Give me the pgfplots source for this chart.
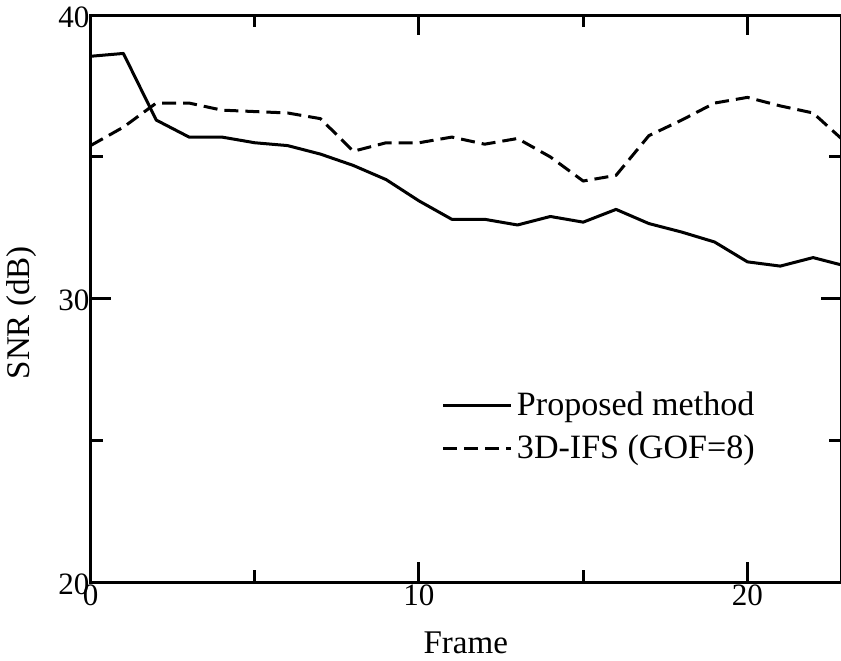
\documentclass[border=0pt]{standalone}
\usepackage{pgfplots}
\pgfplotsset{compat=1.18}
\usepackage{fontspec}
\setmainfont{Liberation Serif}

\pgfplotstableread{
x y
0 38.55
1 38.65
2 36.3
3 35.7
4 35.7
5 35.5
6 35.4
7 35.1
8 34.7
9 34.2
10 33.45
11 32.8
12 32.8
13 32.6
14 32.9
15 32.7
16 33.15
17 32.65
18 32.35
19 32.0
20 31.3
21 31.15
22 31.45
23 31.15
}\proposed

\pgfplotstableread{
x y
0 35.4
1 36.05
2 36.9
3 36.9
4 36.65
5 36.6
6 36.55
7 36.35
8 35.2
9 35.5
10 35.5
11 35.7
12 35.45
13 35.65
14 35.0
15 34.15
16 34.35
17 35.75
18 36.3
19 36.9
20 37.1
21 36.8
22 36.55
23 35.5
}\ifs

\begin{document}
\begin{tikzpicture}[trim axis right]
\begin{axis}[
  scale only axis,
  width=374.5pt, height=283pt,
  xmin=0, xmax=22.85, ymin=20, ymax=40,
  xtick={0,10,20}, ytick={20,30,40},
  minor xtick={5,15}, minor ytick={25,35},
  tick align=inside,
  major tick length=10pt, minor tick length=6pt,
  axis line style={line width=1.5pt},
  every tick/.style={black, line width=1.5pt},
  /pgf/number format/assume math mode=true,
  tick label style={font=\fontsize{15.5}{18}\selectfont},
  xticklabel style={yshift=2pt},
  yticklabel style={xshift=3pt, yshift=-1pt},
  xlabel={Frame}, ylabel={SNR (dB)},
  label style={font=\fontsize{16.5}{19}\selectfont},
  xlabel style={yshift=-6pt},
  ylabel style={yshift=4pt, xshift=-7pt},
  clip=true,
  legend cell align=left,
  legend style={at={(axis cs:10.5,27.0)}, anchor=north west, draw=none, fill=none,
    font=\fontsize{17}{20}\selectfont, row sep=4pt},
  legend image code/.code={\draw[#1] (0pt,0pt) -- (34pt,0pt);},
]
\addplot[black, line width=1.5pt, line join=round] table[x=x, y=y] {\proposed};
\addlegendentry{Proposed method}
\addplot[black, line width=1.5pt, line join=round, dash pattern=on 7pt off 3.5pt] table[x=x, y=y] {\ifs};
\addlegendentry{3D-IFS (GOF=8)}
\end{axis}
\end{tikzpicture}
\end{document}
